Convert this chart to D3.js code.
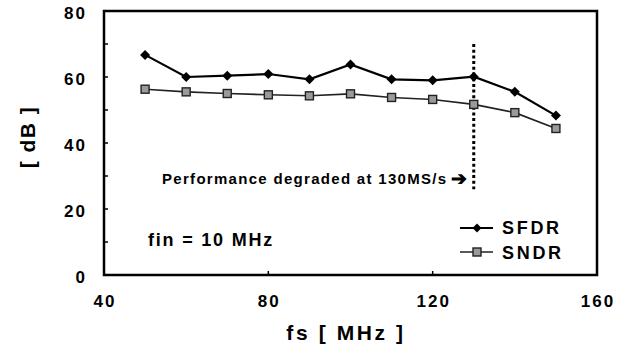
<!DOCTYPE html>
<html lang="en">
<head>
<meta charset="utf-8">
<title>SFDR / SNDR vs fs</title>
<script src="https://cdn.jsdelivr.net/npm/d3@7"></script>
<style>
  body { margin: 0; background: #fff; }
  text { font-family: "Liberation Sans", Arial, Helvetica, sans-serif; font-weight: bold; fill: #000; }
</style>
</head>
<body>
<script>
// data
var fs = [50, 60, 70, 80, 90, 100, 110, 120, 130, 140, 150];
var sfdr = [66.7, 60.0, 60.4, 60.9, 59.3, 63.8, 59.3, 59.0, 60.1, 55.5, 48.3];
var sndr = [56.3, 55.5, 55.0, 54.6, 54.3, 54.9, 53.8, 53.2, 51.7, 49.2, 44.4];
var xTicks = [40, 80, 120, 160];
var yTicks = [0, 20, 40, 60, 80];
var yMinor = [10, 20, 30, 40, 50, 60, 70];
var degradedAt = 130;

var width = 626, height = 356;
// plot box (window.top is read-only, so no "top" here)
var pLeft = 104, pRight = 597, pTop = 11, pBottom = 275;

var svg = d3.select("body").append("svg")
  .attr("width", width)
  .attr("height", height);

var x = d3.scaleLinear().domain([40, 160]).range([pLeft, pRight]);
var y = d3.scaleLinear().domain([0, 80]).range([pBottom, pTop]);

// frame
svg.append("rect")
  .attr("x", pLeft).attr("y", pTop)
  .attr("width", pRight - pLeft).attr("height", pBottom - pTop)
  .attr("fill", "none").attr("stroke", "#000").attr("stroke-width", 2.5);

// inner ticks
svg.selectAll(".ytick").data(yMinor).enter().append("line")
  .attr("x1", pLeft).attr("x2", pLeft + 4)
  .attr("y1", function(d) { return y(d); })
  .attr("y2", function(d) { return y(d); })
  .attr("stroke", "#000").attr("stroke-width", 1.5);

svg.selectAll(".xtick").data([80, 120]).enter().append("line")
  .attr("y1", pBottom).attr("y2", pBottom - 4)
  .attr("x1", function(d) { return x(d); })
  .attr("x2", function(d) { return x(d); })
  .attr("stroke", "#000").attr("stroke-width", 1.5);

// tick labels
svg.selectAll(".ylab").data(yTicks).enter().append("text")
  .attr("x", 87)
  .attr("y", function(d) { return y(d) + 8; })
  .attr("text-anchor", "end")
  .style("font-size", "17px")
  .style("letter-spacing", "2px")
  .text(function(d) { return d; });

svg.selectAll(".xlab").data(xTicks).enter().append("text")
  .attr("x", function(d) { return x(d) + 1; })
  .attr("y", 307)
  .attr("text-anchor", "middle")
  .style("font-size", "17px")
  .style("letter-spacing", "2px")
  .text(function(d) { return d; });

// axis titles
svg.append("text")
  .attr("x", 346).attr("y", 340)
  .attr("text-anchor", "middle")
  .style("font-size", "21px")
  .style("letter-spacing", "2.6px")
  .text("fs [ MHz ]");

svg.append("text")
  .attr("transform", "translate(35,137) rotate(-90)")
  .attr("text-anchor", "middle")
  .style("font-size", "21px")
  .style("letter-spacing", "1.5px")
  .text("[ dB ]");

// dotted marker line at 130MS/s
svg.append("line")
  .attr("x1", x(degradedAt)).attr("x2", x(degradedAt))
  .attr("y1", y(70)).attr("y2", y(26))
  .attr("stroke", "#000").attr("stroke-width", 3)
  .attr("stroke-dasharray", "3,2.7");

svg.append("text")
  .attr("x", 162).attr("y", 184)
  .style("font-size", "15px")
  .style("letter-spacing", "1.3px")
  .text("Performance degraded at 130MS/s");

svg.append("text")
  .attr("x", 451).attr("y", 185)
  .style("font-size", "19px")
  .text("\u2794");

svg.append("text")
  .attr("x", 148).attr("y", 246)
  .style("font-size", "18px")
  .style("letter-spacing", "1.8px")
  .text("fin = 10 MHz");

// series
var line = d3.line()
  .x(function(d) { return x(d[0]); })
  .y(function(d) { return y(d[1]); });

var sndrPts = fs.map(function(d, i) { return [d, sndr[i]]; });
var sfdrPts = fs.map(function(d, i) { return [d, sfdr[i]]; });

svg.append("path").datum(sndrPts)
  .attr("d", line).attr("fill", "none")
  .attr("stroke", "#222").attr("stroke-width", 1.6);

svg.append("path").datum(sfdrPts)
  .attr("d", line).attr("fill", "none")
  .attr("stroke", "#000").attr("stroke-width", 2.2);

function square(g, cx, cy) {
  g.append("rect")
    .attr("x", cx - 4).attr("y", cy - 4)
    .attr("width", 8).attr("height", 8)
    .attr("fill", "#9a9a9a").attr("stroke", "#222").attr("stroke-width", 1.4);
}

svg.selectAll(".sq").data(sndrPts).enter().append("rect")
  .attr("x", function(d) { return x(d[0]) - 4; })
  .attr("y", function(d) { return y(d[1]) - 4; })
  .attr("width", 8).attr("height", 8)
  .attr("fill", "#9a9a9a").attr("stroke", "#222").attr("stroke-width", 1.4);

svg.selectAll(".dm").data(sfdrPts).enter().append("path")
  .attr("d", d3.symbol().type(d3.symbolSquare).size(50))
  .attr("transform", function(d) { return "translate(" + x(d[0]) + "," + y(d[1]) + ") rotate(45)"; })
  .attr("fill", "#000");

// legend
var lg = svg.append("g");
lg.append("line").attr("x1", 460).attr("x2", 493).attr("y1", 228).attr("y2", 228)
  .attr("stroke", "#000").attr("stroke-width", 2.2);
lg.append("path")
  .attr("d", d3.symbol().type(d3.symbolSquare).size(40))
  .attr("transform", "translate(477,228) rotate(45)")
  .attr("fill", "#000");
lg.append("line").attr("x1", 460).attr("x2", 493).attr("y1", 252).attr("y2", 252)
  .attr("stroke", "#222").attr("stroke-width", 1.6);
square(lg, 477, 252);
lg.append("text").attr("x", 502).attr("y", 234)
  .style("font-size", "18px").style("letter-spacing", "2.7px").text("SFDR");
lg.append("text").attr("x", 502).attr("y", 259)
  .style("font-size", "18px").style("letter-spacing", "2.7px").text("SNDR");
</script>
</body>
</html>
